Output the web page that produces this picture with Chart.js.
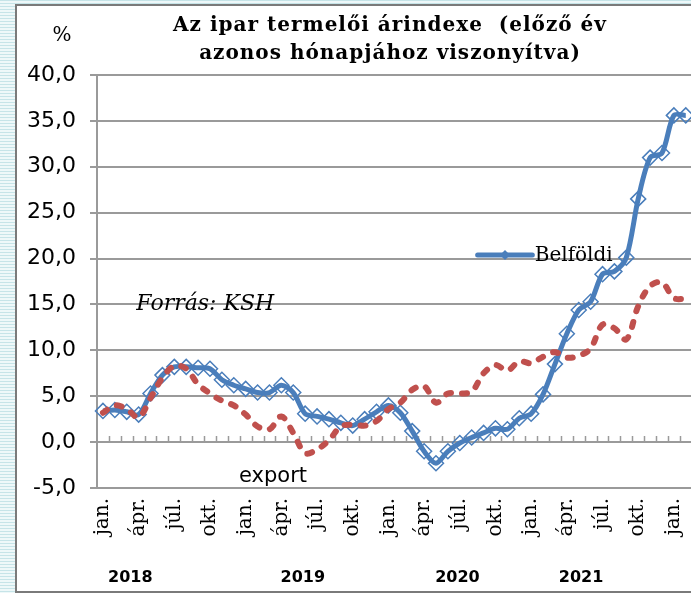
<!DOCTYPE html>
<html>
<head>
<meta charset="utf-8">
<script src="https://cdn.jsdelivr.net/npm/chart.js@4.4.1/dist/chart.umd.min.js"></script>
<style>
html, body {
    margin: 0; padding: 0; width: 691px; height: 593px; overflow: hidden;
    background: repeating-linear-gradient(to bottom, #c6e4e8 0px, #c6e4e8 1px, #eef8f9 1px, #eef8f9 3px);
}
#frame { position: absolute; left: 15px; top: 4px; width: 760px; height: 585px; background: #fff; border: 2px solid #7a7a7a; }
#wrap { position: absolute; left: 0; top: 0; width: 720px; height: 593px; }
</style>
</head>
<body>
<div id="frame"></div>
<div id="wrap"><canvas id="myChart" width="720" height="593"></canvas></div>
<script>
// months jan 2018 .. feb 2022
var months = ['jan.', 'febr.', 'márc.', 'ápr.', 'máj.', 'jún.', 'júl.', 'aug.', 'szept.', 'okt.', 'nov.', 'dec.'];
var years = ['2018', '2019', '2020', '2021'];
var yearPos = [2.3, 16.8, 29.8, 40.2]; // caption position, in months from jan 2018

var belfoldi = [3.4, 3.5, 3.3, 3.0, 5.3, 7.3, 8.2, 8.2, 8.1, 8.0, 6.8, 6.2,
                5.8, 5.4, 5.4, 6.2, 5.4, 3.1, 2.8, 2.5, 2.1, 1.8, 2.5, 3.3,
                4.0, 3.2, 1.2, -1.0, -2.3, -1.0, -0.1, 0.5, 1.0, 1.5, 1.4, 2.6,
                3.1, 5.2, 8.5, 11.8, 14.4, 15.3, 18.3, 18.6, 20.1, 26.5, 31.0, 31.5,
                35.6, 35.6];
var exportData = [3.2, 4.0, 3.6, 2.7, 4.8, 7.0, 8.3, 8.0, 6.3, 5.3, 4.5, 4.0,
                  3.0, 1.7, 1.4, 2.8, 1.0, -1.2, -0.8, 0.2, 1.7, 1.9, 1.8, 2.3,
                  3.6, 4.3, 5.7, 6.1, 4.3, 5.3, 5.3, 5.5, 7.5, 8.4, 7.8, 8.8,
                  8.6, 9.3, 9.8, 9.2, 9.4, 10.2, 12.8, 12.4, 11.2, 14.8, 17.0, 17.4,
                  15.7, 15.6];

var labels = [];
for (var i = 0; i < belfoldi.length; i++) {
    labels.push(months[i % 12]);
}

var blue = '#4a7ebb';
var red = '#c0504d';
var gridGray = '#9a9a9a';

var decor = {
    id: 'decor',
    beforeDatasetsDraw: function (chart) {
        // small tick marks on the zero line
        var c = chart.ctx, x = chart.scales.x, y = chart.scales.y;
        var y0 = y.getPixelForValue(0);
        var step = x.getPixelForValue(1) - x.getPixelForValue(0);
        c.save();
        c.strokeStyle = gridGray;
        c.lineWidth = 1.5;
        c.beginPath();
        for (var i = 0; i < labels.length; i++) {
            var px = Math.round(x.getPixelForValue(i) + step / 2) + 0.5;
            c.moveTo(px, y0);
            c.lineTo(px, y0 - 6);
        }
        c.stroke();
        c.restore();
    },
    afterDraw: function (chart) {
        var c = chart.ctx, x = chart.scales.x, y = chart.scales.y;
        c.save();
        c.fillStyle = '#000';
        c.textAlign = 'center';
        c.textBaseline = 'alphabetic';

        // title
        c.font = 'bold 20px "DejaVu Serif"';
        c.letterSpacing = '1px';
        c.fillText('Az ipar termelői árindexe  (előző év', 390, 31);
        c.fillText('azonos hónapjához viszonyítva)', 390, 59);
        c.letterSpacing = '0px';

        c.font = '20px "DejaVu Serif"';
        c.textBaseline = 'middle';
        c.fillText('%', 62, 36);

        // years under the month labels
        c.font = 'bold 16px "DejaVu Sans"';
        for (var k = 0; k < years.length; k++) {
            c.fillText(years[k], x.getPixelForValue(yearPos[k]), 578);
        }

        c.font = 'italic 22px "DejaVu Serif"';
        c.fillText('Forrás: KSH', x.getPixelForValue(8.6), y.getPixelForValue(15.0));

        c.font = '21px "DejaVu Sans"';
        c.fillText('export', x.getPixelForValue(14.3), y.getPixelForValue(-3.7));

        // legend for the blue series
        var ly = y.getPixelForValue(20.4);
        var lx1 = x.getPixelForValue(31.5), lx2 = x.getPixelForValue(36.1);
        c.strokeStyle = blue;
        c.lineWidth = 5;
        c.lineCap = 'round';
        c.beginPath();
        c.moveTo(lx1, ly);
        c.lineTo(lx2, ly);
        c.stroke();
        var mx = (lx1 + lx2) / 2;
        c.fillStyle = blue;
        c.beginPath();
        c.moveTo(mx - 5, ly); c.lineTo(mx, ly - 5); c.lineTo(mx + 5, ly); c.lineTo(mx, ly + 5);
        c.closePath();
        c.fill();
        c.fillStyle = '#000';
        c.textAlign = 'left';
        c.font = '20px "DejaVu Serif"';
        c.fillText('Belföldi', x.getPixelForValue(36.3), ly + 1);
        c.restore();
    }
};

var ctx = document.getElementById('myChart').getContext('2d');
var myChart = new Chart(ctx, {
    type: 'line',
    data: {
        labels: labels,
        datasets: [{
            label: 'Belföldi',
            data: belfoldi,
            borderColor: blue,
            borderWidth: 5,
            tension: 0.3,
            pointStyle: 'rectRot',
            pointRadius: 7.5,
            pointBorderWidth: 1.5,
            pointBorderColor: blue,
            pointBackgroundColor: 'rgba(255,255,255,0)',
            order: 1
        }, {
            label: 'export',
            data: exportData,
            borderColor: red,
            borderWidth: 6,
            borderDash: [5, 11],
            borderCapStyle: 'round',
            tension: 0.35,
            pointRadius: 0,
            order: 0
        }]
    },
    options: {
        responsive: false,
        animation: false,
        devicePixelRatio: 1,
        layout: { padding: { top: 75, right: 22, bottom: 0, left: 0 } },
        plugins: {
            legend: { display: false },
            tooltip: { enabled: false }
        },
        scales: {
            x: {
                offset: true,
                grid: { display: false, drawTicks: false },
                border: { display: false },
                ticks: {
                    autoSkip: false,
                    maxRotation: 90,
                    minRotation: 90,
                    padding: 10,
                    color: '#000',
                    font: { family: 'DejaVu Serif', size: 20 },
                    callback: function (v, i) { return i % 3 === 0 ? labels[i] : ''; }
                },
                afterFit: function (s) { s.height = 105; }
            },
            y: {
                min: -5,
                max: 40,
                ticks: {
                    stepSize: 5,
                    padding: 14,
                    color: '#000',
                    font: { family: 'DejaVu Sans', size: 22 },
                    callback: function (v) { return v.toFixed(1).replace('.', ','); }
                },
                grid: { color: gridGray, lineWidth: 2, tickLength: 7 },
                border: { color: gridGray, width: 2 },
                afterFit: function (s) { s.width = 97; }
            }
        }
    },
    plugins: [decor]
});
</script>
</body>
</html>
